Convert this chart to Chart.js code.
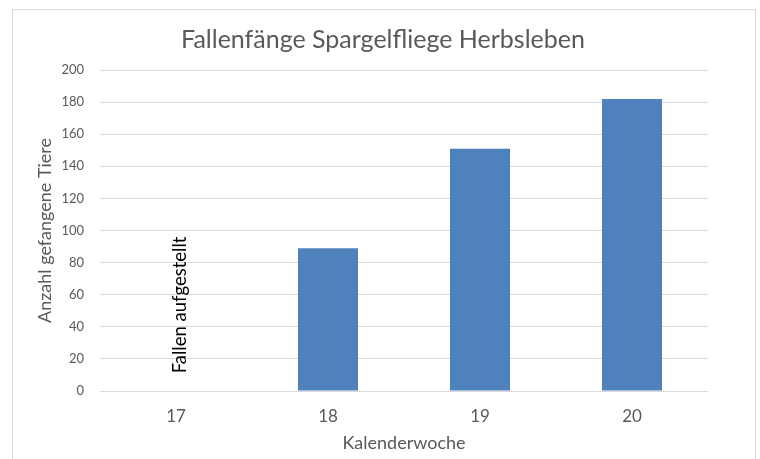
<!DOCTYPE html>
<html>
<head>
<meta charset="utf-8">
<script src="https://cdn.jsdelivr.net/npm/chart.js@4.4.0/dist/chart.umd.min.js"></script>
<style>
  html, body { margin: 0; padding: 0; background: #fff; }
  #wrap { position: relative; width: 760px; height: 459px; }
  #frame { position: absolute; left: 12px; top: 9px; width: 744px; height: 460px; border: 1px solid #d9d9d9; box-sizing: border-box; }
  canvas { position: absolute; left: 0; top: 0; }
</style>
</head>
<body>
<div id="wrap">
  <div id="frame"></div>
  <canvas id="barChart" width="760" height="459"></canvas>
</div>
<script>
// Kalenderwochen und Fallenfänge
var weeks = ["17", "18", "19", "20"];
var catches = [0, 89, 151, 182];
var yTicks = [0, 20, 40, 60, 80, 100, 120, 140, 160, 180, 200];
var chartTitle = "Fallenfänge Spargelfliege Herbsleben";

var FONT = "Lato, 'Open Sans', sans-serif";
var GREY = "#595959";

// Titel mittig über dem Rahmen, Text "Fallen aufgestellt" senkrecht in KW 17
var extraText = {
  id: 'extraText',
  afterDatasetsDraw: function(chart) {
    var ctx = chart.ctx;
    ctx.save();
    ctx.font = "25px " + FONT;
    ctx.fillStyle = GREY;
    ctx.textAlign = "center";
    ctx.textBaseline = "middle";
    ctx.fillText(chartTitle, 383, 40);

    var x = chart.scales.x.getPixelForValue(0) + 4;
    var y = chart.scales.y.getPixelForValue(53.6);
    ctx.translate(x, y);
    ctx.rotate(-Math.PI / 2);
    ctx.font = "18.5px " + FONT;
    ctx.fillStyle = "#000";
    ctx.fillText("Fallen aufgestellt", 0, 0);
    ctx.restore();
  }
};

var ctxB = document.getElementById("barChart").getContext('2d');
var myBarChart = new Chart(ctxB, {
  type: 'bar',
  data: {
    labels: weeks,
    datasets: [{
      label: "Anzahl gefangene Tiere",
      data: catches,
      backgroundColor: "#4f81bd",
      borderWidth: 0,
      categoryPercentage: 1,
      barPercentage: 0.395
    }]
  },
  options: {
    responsive: false,
    animation: false,
    layout: { padding: { left: 25, right: 52, top: 70, bottom: 0 } },
    plugins: {
      legend: { display: false },
      tooltip: { enabled: false },
      title: { display: false }
    },
    scales: {
      x: {
        afterFit: function(scale) { scale.height = 68; },
        grid: { display: false, drawTicks: false },
        border: { display: false },
        ticks: { color: GREY, padding: 15, maxRotation: 0, font: { family: FONT, size: 17, lineHeight: 1.2 } },
        title: {
          display: true,
          text: "Kalenderwoche",
          color: GREY,
          font: { family: FONT, size: 18, lineHeight: 1.2 },
          padding: { top: 6, bottom: 5 }
        }
      },
      y: {
        min: 0,
        max: 200,
        afterBuildTicks: function(scale) {
          scale.ticks = yTicks.map(function(v) { return { value: v }; });
        },
        afterFit: function(scale) { scale.width = 75; },
        grid: { color: "#d9d9d9", lineWidth: 1, drawTicks: false },
        border: { display: false },
        ticks: { color: GREY, padding: 16, font: { family: FONT, size: 13 } },
        title: {
          display: true,
          text: "Anzahl gefangene Tiere",
          color: GREY,
          font: { family: FONT, size: 18, lineHeight: 1.2 },
          padding: { top: 9, bottom: 0 }
        }
      }
    }
  },
  plugins: [extraText]
});
</script>
</body>
</html>
